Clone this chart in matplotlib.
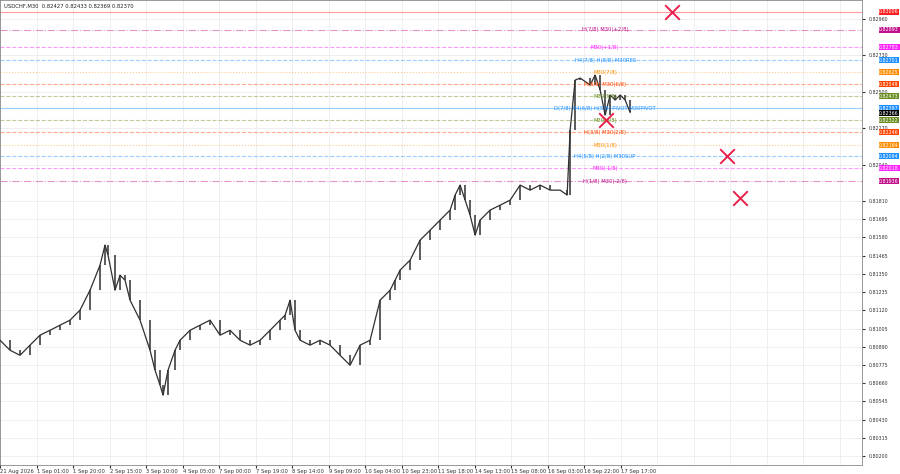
import numpy as np
import matplotlib.pyplot as plt

# USDCHF M30 price path (bar index -> close)
bar_x = [0, 10, 20, 30, 40, 50, 60, 70, 80, 90, 100, 105, 108, 115, 120, 125, 130, 140, 150, 155,
         160, 163, 168, 175, 180, 190, 200, 210, 220, 230, 240, 250, 260, 270, 280, 285, 290, 295,
         300, 310, 320, 330, 340, 350, 360, 370, 380, 390, 395, 400, 410, 420, 430, 440, 450, 455,
         460, 465, 470, 475, 480, 490, 500, 510, 520, 530, 540, 550, 560, 567, 570, 575, 580, 590,
         595, 600, 605, 610, 615, 620, 625, 630]
closes = [0.80931, 0.80868, 0.80836, 0.80900, 0.80963, 0.80994, 0.81026, 0.81058, 0.81121, 0.81247,
          0.81405, 0.81532, 0.81468, 0.81247, 0.81342, 0.81310, 0.81184, 0.81058, 0.80868, 0.80742,
          0.80647, 0.80584, 0.80742, 0.80868, 0.80931, 0.80994, 0.81026, 0.81058, 0.80963, 0.80994,
          0.80931, 0.80900, 0.80931, 0.80994, 0.81058, 0.81089, 0.81184, 0.80994, 0.80931, 0.80900,
          0.80931, 0.80900, 0.80836, 0.80773, 0.80900, 0.80931, 0.81184, 0.81247, 0.81310, 0.81374,
          0.81437, 0.81563, 0.81626, 0.81690, 0.81753, 0.81848, 0.81911, 0.81816, 0.81721, 0.81595,
          0.81690, 0.81753, 0.81784, 0.81816, 0.81911, 0.81879, 0.81911, 0.81879, 0.81879, 0.81848,
          0.82258, 0.82574, 0.82587, 0.82543, 0.82606, 0.82511, 0.82353, 0.82480, 0.82448, 0.82480,
          0.82448, 0.82370]

# Murrey math levels: price, colour, label, line style
lvl_price = [0.83006, 0.82893, 0.82783, 0.82701, 0.82625, 0.82549, 0.82473, 0.82397,
             0.82322, 0.82246, 0.82164, 0.82094, 0.82018, 0.81936]
lvl_color = ['#ff2020', '#c0108a', '#ff20ff', '#1e90ff', '#ff8c00', '#ff4500', '#6b8e23', '#1e90ff',
             '#6b8e23', '#ff4500', '#ff8c00', '#1e90ff', '#ff20ff', '#c0108a']
lvl_label = ['', 'H(7/8) M30(+2/8)', 'M30(+1/8)', 'H4(7/8) H(8/8) M30RES', 'M30(7/8)',
             'H(6/8) M30(6/8)', 'M30(5/8)', 'D(7/8) H4(6/8) H(5/8) PIVOT M30PIVOT', 'M30(3/8)',
             'H(3/8) M30(2/8)', 'M30(1/8)', 'H4(5/8) H(2/8) M30SUP', 'M30(-1/8)', 'H(1/8) M30(-2/8)']
lvl_style = ['-', '-.', '--', '--', ':', '--', '--', '-', '--', '--', ':', '--', '--', '-.']

cross_x = [672, 606, 727, 740]
cross_y = [0.83006, 0.82322, 0.82094, 0.81830]

ytick_vals = [0.82960, 0.82730, 0.82500, 0.82270, 0.82040, 0.81810, 0.81695, 0.81580, 0.81465,
              0.81350, 0.81235, 0.81120, 0.81005, 0.80890, 0.80775, 0.80660, 0.80545, 0.80430,
              0.80315, 0.80200]
date_labels = ['21 Aug 2026', '1 Sep 01:00', '1 Sep 20:00', '2 Sep 15:00', '3 Sep 10:00',
               '4 Sep 05:00', '7 Sep 00:00', '7 Sep 19:00', '8 Sep 14:00', '9 Sep 09:00',
               '10 Sep 04:00', '10 Sep 23:00', '11 Sep 18:00', '14 Sep 13:00', '15 Sep 08:00',
               '16 Sep 03:00', '16 Sep 22:00', '17 Sep 17:00']

fig = plt.figure(figsize=(9, 4.74), dpi=100)
ax = fig.add_axes([0.0, 0.019, 0.958, 0.981])
ax.set_xlim(0, 862)
ax.set_ylim(0.80143, 0.83080)

# grid
date_x = np.arange(len(date_labels)) * 36.5
for x in date_x:
    ax.axvline(x, color='#ececec', lw=0.6, zorder=0)
for x in np.arange(6) * 36.5 + 657:
    ax.axvline(x, color='#ececec', lw=0.6, zorder=0)
for y in ytick_vals:
    ax.axhline(y, color='#ececec', lw=0.6, zorder=0)

# price as candle bodies + path
opens = [closes[0]] + closes[:-1]
for x, o, c in zip(bar_x, opens, closes):
    ax.vlines(x, min(o, c), max(o, c), color='#404040', lw=1.2, zorder=3)
ax.plot(bar_x, closes, color='#303030', lw=0.9, zorder=3)

# levels
for p, col, lab, ls in zip(lvl_price, lvl_color, lvl_label, lvl_style):
    ax.axhline(p, color=col, lw=0.8, ls=ls, alpha=0.45, zorder=2)
    if lab:
        ax.text(605, p, lab, color=col, fontsize=3.8, ha='center', va='center', zorder=4)
    ax.text(879, p, '%.5f' % p, color='white', fontsize=3.4, ha='left', va='center',
            clip_on=False, bbox=dict(boxstyle='square,pad=0.12', fc=col, ec='none'))
ax.text(879, 0.82366, '0.82366', color='white', fontsize=3.4, ha='left', va='center',
        clip_on=False, bbox=dict(boxstyle='square,pad=0.12', fc='black', ec='none'))

ax.scatter(cross_x, cross_y, marker='x', s=110, color='#e8204a', lw=1.4, zorder=5)

ax.set_yticks(ytick_vals)
ax.set_yticklabels(['%.5f' % v for v in ytick_vals])
ax.yaxis.tick_right()
ax.tick_params(axis='y', labelsize=3.4, colors='#333333', length=2, pad=3)
ax.set_xticks(date_x)
ax.set_xticklabels(date_labels, ha='left')
ax.tick_params(axis='x', labelsize=3.8, colors='#333333', length=2, pad=1)
for s in ax.spines.values():
    s.set_color('#888888')
    s.set_linewidth(0.6)

ax.text(4, 0.83040, 'USDCHF,M30  0.82427 0.82433 0.82369 0.82370', fontsize=3.8, color='#222222',
        va='center')

fig.savefig('out.png', dpi=100)
